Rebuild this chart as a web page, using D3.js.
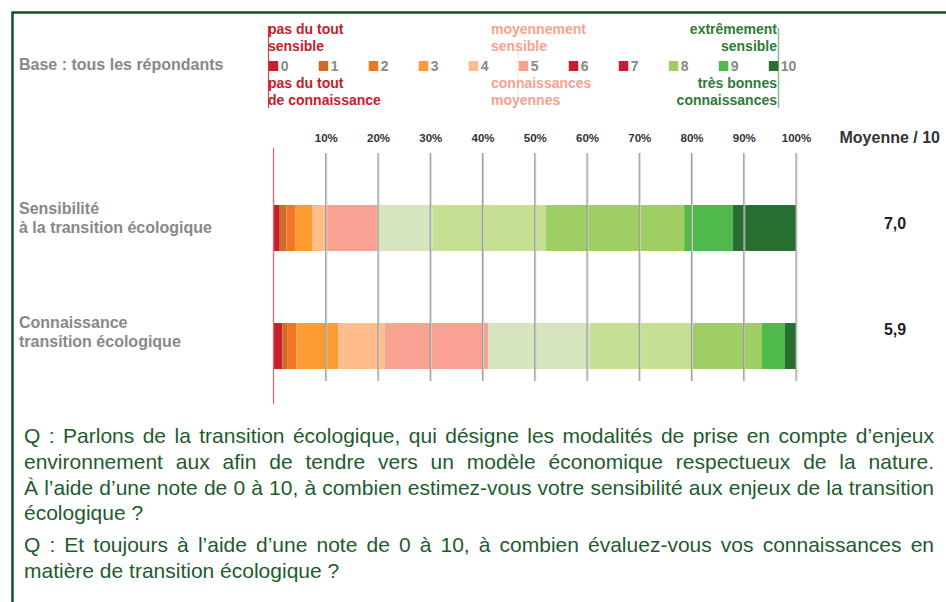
<!DOCTYPE html>
<html>
<head>
<meta charset="utf-8">
<script src="https://cdn.jsdelivr.net/npm/d3@7"></script>
<style>
  body { margin: 0; background: #fff; }
  svg { display: block; font-family: "Liberation Sans", Arial, sans-serif; }
</style>
</head>
<body>
<script>
// data
var notes = ["0", "1", "2", "3", "4", "5", "6", "7", "8", "9", "10"];
var categories = ["Sensibilité", "Connaissance"];
var categoryLines = [["Sensibilité", "à la transition écologique"], ["Connaissance", "transition écologique"]];
var sensibilite = [1.2, 1.3, 1.6, 3.4, 2.6, 9.7, 10.6, 21.7, 26.5, 9.3, 12.1];
var connaissance = [1.7, 0.9, 1.8, 8.0, 8.9, 19.8, 19.5, 19.7, 13.2, 4.4, 2.1];
var moyennes = ["7,0", "5,9"];
var tickValues = [10, 20, 30, 40, 50, 60, 70, 80, 90, 100];

var barColors = ["#c8202a", "#d06b24", "#f07527", "#fd9c32", "#febd8b", "#f9a291",
                 "#d5e5bd", "#c6e093", "#9fce62", "#50b94b", "#276e31"];
// the legend in the original shows 6 and 7 in red
var legendColors = ["#c8202a", "#d06b24", "#f07527", "#fd9c32", "#febd8b", "#f9a291",
                    "#c41e2a", "#c41e2a", "#9fce62", "#50b94b", "#276e31"];

var w = 946, h = 602;
var svg = d3.select("body").append("svg").attr("width", w).attr("height", h);

// frame
svg.append("path")
  .attr("d", "M12.5," + h + "V12.5H" + w)
  .attr("fill", "none").attr("stroke", "#1b4d2b").attr("stroke-width", 2.5);

var x = d3.scaleLinear().domain([0, 100]).range([273.5, 796]);
var y = d3.scalePoint().domain(categories).range([228, 346]);
var barH = 46;

// table for the stack
var table = categories.map(function(c, i){
  var row = {cat: c};
  var vals = i === 0 ? sensibilite : connaissance;
  notes.forEach(function(n, j){ row[n] = vals[j]; });
  return row;
});
var series = d3.stack().keys(notes)(table);

svg.append("g").selectAll("g")
  .data(series)
  .enter().append("g")
    .attr("fill", function(d, i){ return barColors[i]; })
  .selectAll("rect")
  .data(function(d){ return d; })
  .enter().append("rect")
    .attr("x", function(d){ return x(d[0]); })
    .attr("width", function(d){ return x(d[1]) - x(d[0]); })
    .attr("y", function(d){ return y(d.data.cat) - barH / 2; })
    .attr("height", barH);

// gridlines over the bars
var grid = svg.append("g");
grid.selectAll("line.shade")
  .data(tickValues)
  .enter().append("line")
    .attr("x1", function(d){ return x(d) + 1; })
    .attr("x2", function(d){ return x(d) + 1; })
    .attr("y1", 153).attr("y2", 381)
    .attr("stroke", "#d4d4d4").attr("stroke-width", 1);
grid.selectAll("line.main")
  .data(tickValues)
  .enter().append("line")
    .attr("x1", function(d){ return x(d); })
    .attr("x2", function(d){ return x(d); })
    .attr("y1", 153).attr("y2", 381)
    .attr("stroke", "#9c9c9c").attr("stroke-width", 1.2);

// zero line
svg.append("line")
  .attr("x1", x(0)).attr("x2", x(0))
  .attr("y1", 148).attr("y2", 404)
  .attr("stroke", "#de6a6a").attr("stroke-width", 1.3);

// percent labels
var axis = svg.append("g")
  .attr("transform", "translate(0,145)")
  .call(d3.axisTop(x).tickValues(tickValues).tickSize(0).tickPadding(3)
    .tickFormat(function(d){ return d + "%"; }));
axis.select(".domain").remove();
axis.selectAll("text")
  .attr("font-family", "Liberation Sans, Arial, sans-serif")
  .attr("font-size", 11.5).attr("font-weight", "bold").attr("fill", "#333");

svg.append("text")
  .attr("x", 940).attr("y", 143).attr("text-anchor", "end")
  .attr("font-size", 16).attr("font-weight", "bold").attr("fill", "#333")
  .text("Moyenne / 10");

// category labels
var labelY = [[214, 233], [328, 347]];
categoryLines.forEach(function(lines, i){
  var t = svg.append("text")
    .attr("font-size", 16).attr("font-weight", "bold").attr("fill", "#888");
  lines.forEach(function(l, k){
    t.append("tspan").attr("x", 19).attr("y", labelY[i][k]).text(l);
  });
});

// means
svg.selectAll("text.mean")
  .data(moyennes)
  .enter().append("text")
    .attr("x", 895).attr("y", function(d, i){ return y(categories[i]) + 1 - (i === 0 ? 0 : 12); })
    .attr("text-anchor", "middle")
    .attr("font-size", 16).attr("font-weight", "bold").attr("fill", "#222")
    .text(function(d){ return d; });

// base
svg.append("text")
  .attr("x", 19).attr("y", 70)
  .attr("font-size", 16).attr("font-weight", "bold").attr("fill", "#888")
  .text("Base : tous les répondants");

// legend
var lx = d3.scaleLinear().domain([0, 10]).range([268.7, 768.8]);
var legend = svg.append("g");

legend.append("line").attr("x1", 268.5).attr("x2", 268.5).attr("y1", 26).attr("y2", 108)
  .attr("stroke", "#d24545").attr("stroke-width", 1.2);
legend.append("line").attr("x1", 518).attr("x2", 518).attr("y1", 40).attr("y2", 100)
  .attr("stroke", "#fde6d8").attr("stroke-width", 1.2);
legend.append("line").attr("x1", 778.5).attr("x2", 778.5).attr("y1", 28).attr("y2", 108)
  .attr("stroke", "#8fb98f").attr("stroke-width", 1.5);

legend.selectAll("rect")
  .data(notes)
  .enter().append("rect")
    .attr("x", function(d, i){ return lx(i); })
    .attr("y", 61).attr("width", 9.5).attr("height", 10)
    .attr("fill", function(d, i){ return legendColors[i]; });

legend.selectAll("text.num")
  .data(notes)
  .enter().append("text")
    .attr("x", function(d, i){ return lx(i) + 12; })
    .attr("y", 71)
    .attr("font-size", 14).attr("font-weight", "bold").attr("fill", "#888")
    .text(function(d){ return d; });

var legendTexts = [
  {x: 268, anchor: "start", color: "#c8202a", lines: ["pas du tout", "sensible", "", "pas du tout", "de connaissance"]},
  {x: 491, anchor: "start", color: "#f9a08e", lines: ["moyennement", "sensible", "", "connaissances", "moyennes"]},
  {x: 777, anchor: "end", color: "#2e7a36", lines: ["extrêmement", "sensible", "", "très bonnes", "connaissances"]}
];
var legendY = [34, 50.5, 0, 88, 104.5];
legendTexts.forEach(function(g){
  g.lines.forEach(function(l, k){
    if (!l) return;
    legend.append("text")
      .attr("x", g.x).attr("y", legendY[k]).attr("text-anchor", g.anchor)
      .attr("font-size", 14).attr("font-weight", "bold").attr("fill", g.color)
      .text(l);
  });
});

// question text, justified by hand
var qLines = [
  {t: "Q : Parlons de la transition écologique, qui désigne les modalités de prise en compte d’enjeux", y: 443, j: true},
  {t: "environnement aux afin de tendre vers un modèle économique respectueux de la nature.", y: 469, j: true},
  {t: "À l’aide d’une note de 0 à 10, à combien estimez-vous votre sensibilité aux enjeux de la transition", y: 495, j: true},
  {t: "écologique ?", y: 520, j: false},
  {t: "Q : Et toujours à l’aide d’une note de 0 à 10, à combien évaluez-vous vos connaissances en", y: 552, j: true},
  {t: "matière de transition écologique ?", y: 578, j: false}
];
var left = 24, right = 934;
var q = svg.append("g").attr("font-size", 21).attr("fill", "#1e5b2e");
qLines.forEach(function(line){
  if (!line.j) {
    q.append("text").attr("x", left).attr("y", line.y).text(line.t);
    return;
  }
  var words = line.t.split(" ");
  var t = q.append("text").attr("y", line.y);
  var spans = words.map(function(wd){ return t.append("tspan").text(wd); });
  var widths = spans.map(function(s){ return s.node().getComputedTextLength(); });
  var gap = (right - left - d3.sum(widths)) / (words.length - 1);
  var cx = left;
  spans.forEach(function(s, i){
    s.attr("x", cx);
    cx += widths[i] + gap;
  });
});
</script>
</body>
</html>
